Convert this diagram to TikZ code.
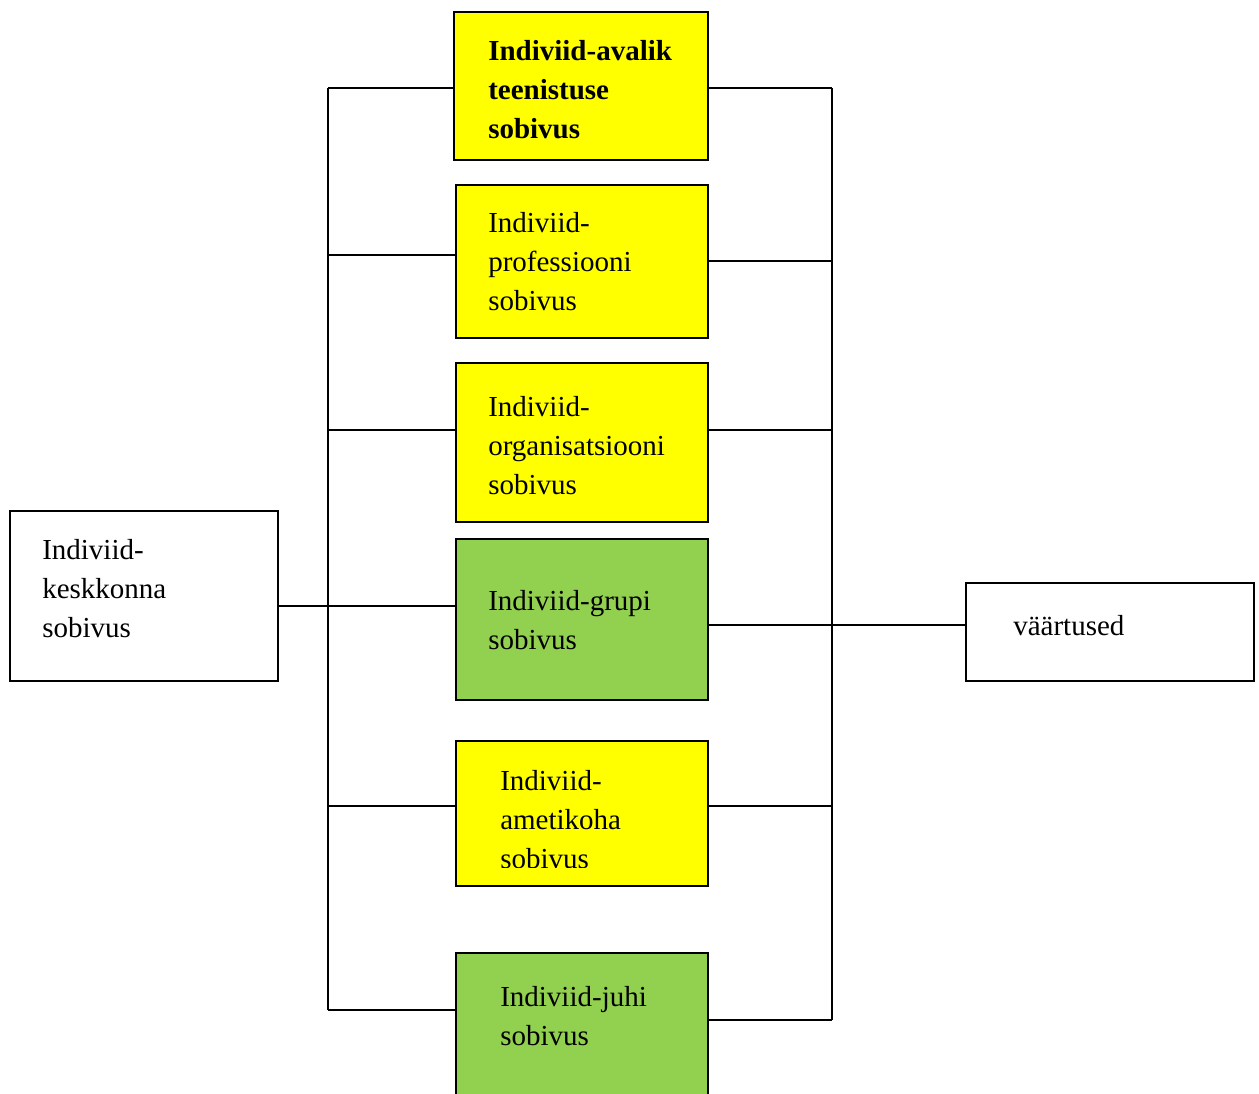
\documentclass[tikz,border=0pt]{standalone}
\usepackage{fontspec}
\setmainfont{Liberation Serif}
\usepackage{tikz}

\definecolor{boxyellow}{RGB}{255,255,0}
\definecolor{boxgreen}{RGB}{146,208,80}

\tikzset{
  fitbox/.style={draw, line width=1.4pt, rectangle, inner sep=0pt},
  txt/.style={anchor=base west, inner sep=0pt, align=left, font=\fontsize{21.75}{29}\selectfont},
  bus/.style={line width=1.4pt},
}

\begin{document}
\begin{tikzpicture}[x=0.75pt,y=0.75pt,yscale=-1,xscale=1]
\clip (0,0) rectangle (1259,1093);

%Boxes
\node (avalik) [fitbox, fill=boxyellow, minimum width=190.5pt, minimum height=111pt] at (581,86) {};
\node (prof) [fitbox, fill=boxyellow, minimum width=189pt, minimum height=114.75pt] at (582,261.5) {};
\node (org) [fitbox, fill=boxyellow, minimum width=189pt, minimum height=119.25pt] at (582,442.5) {};
\node (grupi) [fitbox, fill=boxgreen, minimum width=189pt, minimum height=120.75pt] at (582,619.5) {};
\node (amet) [fitbox, fill=boxyellow, minimum width=189pt, minimum height=108.75pt] at (582,813.5) {};
\node (juhi) [fitbox, fill=boxgreen, minimum width=189pt, minimum height=112.5pt] at (582,1028) {};
\node (kesk) [fitbox, minimum width=201pt, minimum height=127.5pt] at (144,596) {};
\node (vaart) [fitbox, minimum width=216pt, minimum height=73.5pt] at (1110,632) {};

%Left bus
\coordinate (lA) at (328,88);
\coordinate (lB) at (328,255);
\coordinate (lC) at (328,430);
\coordinate (lD) at (328,606);
\coordinate (lE) at (328,806);
\coordinate (lF) at (328,1010);
\draw [bus] (lA) -- (lF);
\draw [bus] (lA) -- (lA -| avalik.west);
\draw [bus] (lB) -- (lB -| prof.west);
\draw [bus] (lC) -- (lC -| org.west);
\draw [bus] (lD -| kesk.east) -- (lD -| grupi.west);
\draw [bus] (lE) -- (lE -| amet.west);
\draw [bus] (lF) -- (lF -| juhi.west);

%Right bus
\coordinate (rA) at (832,88);
\coordinate (rB) at (832,261);
\coordinate (rC) at (832,430);
\coordinate (rD) at (832,625);
\coordinate (rE) at (832,806);
\coordinate (rF) at (832,1020);
\draw [bus] (rA) -- (rF);
\draw [bus] (rA) -- (rA -| avalik.east);
\draw [bus] (rB) -- (rB -| prof.east);
\draw [bus] (rC) -- (rC -| org.east);
\draw [bus] (rD -| grupi.east) -- (rD -| vaart.west);
\draw [bus] (rE) -- (rE -| amet.east);
\draw [bus] (rF) -- (rF -| juhi.east);

% Text Nodes (base = last line)
\node (tavalik) [txt] at (488,138) {\textbf{Indiviid-avalik}\\\textbf{teenistuse}\\\textbf{sobivus}};
\node (tprof) [txt] at (488,310) {Indiviid-\\professiooni\\sobivus};
\node (torg) [txt] at (488,494) {Indiviid-\\organisatsiooni\\sobivus};
\node (tgrupi) [txt] at (488,649) {Indiviid-grupi\\sobivus};
\begin{scope}
\clip (456,741) rectangle (708,867);
\node (tamet) [txt] at (500,868) {Indiviid-\\ametikoha\\sobivus};
\end{scope}
\node (tjuhi) [txt] at (500,1045) {Indiviid-juhi\\sobivus};
\node (tkesk) [txt] at (42,637) {Indiviid-\\keskkonna\\sobivus};
\node (tvaart) [txt] at (1013,635) {väärtused};

\end{tikzpicture}
\end{document}
